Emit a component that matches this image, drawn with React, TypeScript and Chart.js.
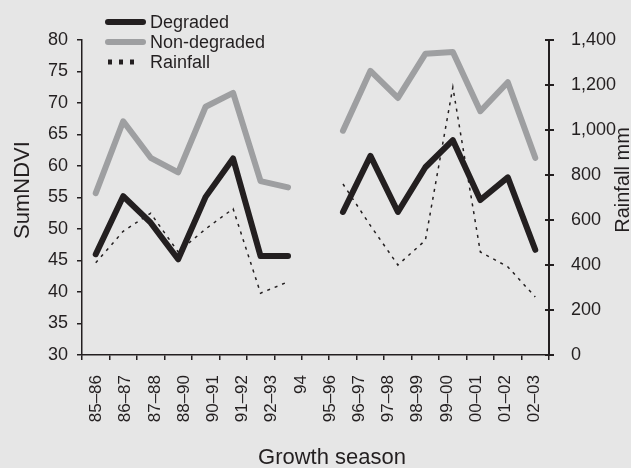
import { useEffect, useRef } from 'react';
import { Chart, registerables } from 'chart.js';

Chart.register(...registerables);

const seasons = ['85–86', '86–87', '87–88', '88–90', '90–91', '91–92', '92–93', '94', '95–96', '96–97', '97–98', '98–99', '99–00', '00–01', '01–02', '02–03'];
// data slots: a blank slot separates the two observation periods
const slots = [...seasons.slice(0, 8), '', ...seasons.slice(8)];
const degraded = [46, 55.2, 51, 45.2, 55.1, 61.2, 45.7, 45.7, null, 52.7, 61.6, 52.7, 59.8, 64.1, 54.6, 58.2, 46.7];
const nonDegraded = [55.7, 67.1, 61.3, 59, 69.4, 71.6, 57.6, 56.6, null, 65.6, 75.1, 70.8, 77.8, 78.1, 68.7, 73.3, 61.3];
const rainfall = [410, 550, 630, 458, 560, 650, 275, 325, null, 760, 575, 400, 510, 1190, 458, 392, 258];
const legendLabels = ['Degraded', 'Non-degraded', 'Rainfall'];

const FONT = '"Liberation Sans", Arial, sans-serif';
const INK = '#231f20';
const GREY = '#9e9fa1';
const BG = '#e6e6e6';

const decor = {
  id: 'decor',
  beforeDraw(chart: any) {
    const ctx = chart.ctx;
    ctx.save();
    ctx.fillStyle = BG;
    ctx.fillRect(0, 0, chart.width, chart.height);
    ctx.restore();
  },
  afterDraw(chart: any) {
    const ctx = chart.ctx;
    ctx.save();
    // right axis ticks crossing the axis
    const yr = chart.scales.yr;
    ctx.strokeStyle = INK;
    ctx.lineWidth = 2;
    yr.ticks.forEach((t: any) => {
      const y = Math.round(yr.getPixelForValue(t.value));
      ctx.beginPath();
      ctx.moveTo(yr.left - 4, y);
      ctx.lineTo(yr.left + 5, y);
      ctx.stroke();
    });
    // legend
    const lx0 = 108, lx1 = 143, tx = 150;
    const ys = [22, 42, 62];
    ctx.lineCap = 'round';
    ctx.lineWidth = 6;
    ctx.strokeStyle = INK;
    ctx.beginPath(); ctx.moveTo(lx0, ys[0]); ctx.lineTo(lx1, ys[0]); ctx.stroke();
    ctx.strokeStyle = GREY;
    ctx.beginPath(); ctx.moveTo(lx0, ys[1]); ctx.lineTo(lx1, ys[1]); ctx.stroke();
    ctx.lineCap = 'butt';
    ctx.lineWidth = 5;
    ctx.strokeStyle = INK;
    ctx.setLineDash([4, 7]);
    ctx.beginPath(); ctx.moveTo(lx0, ys[2]); ctx.lineTo(lx0 + 28, ys[2]); ctx.stroke();
    ctx.setLineDash([]);
    ctx.fillStyle = INK;
    ctx.font = `18px ${FONT}`;
    ctx.textBaseline = 'middle';
    ctx.textAlign = 'left';
    legendLabels.forEach((l, i) => ctx.fillText(l, tx, ys[i] + 1));
    // axis titles
    ctx.textAlign = 'center';
    ctx.font = `22px ${FONT}`;
    ctx.save();
    ctx.translate(23, 190);
    ctx.rotate(-Math.PI / 2);
    ctx.fillText('SumNDVI', 0, 0);
    ctx.restore();
    ctx.font = `20px ${FONT}`;
    ctx.save();
    ctx.translate(623, 180);
    ctx.rotate(-Math.PI / 2);
    ctx.fillText('Rainfall mm', 0, 0);
    ctx.restore();
    ctx.font = `22px ${FONT}`;
    ctx.fillText('Growth season', 332, 458);
    ctx.restore();
  },
};

export default function App() {
  const ref = useRef<HTMLCanvasElement>(null);
  useEffect(() => {
    document.body.style.margin = '0';
    document.body.style.background = BG;
    const chart = new Chart(ref.current!, {
      type: 'line',
      data: {
        labels: slots,
        datasets: [
          {
            label: 'Rainfall',
            data: rainfall,
            yAxisID: 'yr',
            xAxisID: 'x',
            borderColor: INK,
            borderWidth: 1.5,
            borderDash: [3, 5],
            pointRadius: 0,
            spanGaps: false,
            order: 3,
          },
          {
            label: 'Non-degraded',
            data: nonDegraded,
            yAxisID: 'y',
            xAxisID: 'x',
            borderColor: GREY,
            borderWidth: 6,
            borderCapStyle: 'round',
            borderJoinStyle: 'round',
            pointRadius: 0,
            spanGaps: false,
            order: 2,
          },
          {
            label: 'Degraded',
            data: degraded,
            yAxisID: 'y',
            xAxisID: 'x',
            borderColor: INK,
            borderWidth: 6,
            borderCapStyle: 'round',
            borderJoinStyle: 'round',
            pointRadius: 0,
            spanGaps: false,
            order: 1,
          },
        ],
      },
      options: {
        responsive: false,
        animation: false,
        devicePixelRatio: 1,
        layout: { padding: { top: 40, left: 0, right: 0, bottom: 0 } },
        plugins: { legend: { display: false }, tooltip: { enabled: false } },
        scales: {
          x: {
            type: 'category',
            position: 'bottom',
            offset: true,
            grid: { display: true, offset: true, drawOnChartArea: false, drawTicks: true, tickLength: 5, color: INK, lineWidth: 1.5 },
            border: { display: true, color: INK, width: 1.5 },
            ticks: { display: false },
            afterFit: (s: any) => { s.height = 0; },
          },
          xl: {
            type: 'category',
            position: 'bottom',
            labels: seasons,
            offset: true,
            grid: { display: false },
            border: { display: false },
            ticks: {
              autoSkip: false,
              maxRotation: 90,
              minRotation: 90,
              padding: 12,
              color: INK,
              font: { family: FONT, size: 17 },
            },
            afterFit: (s: any) => { s.height = 113; },
          },
          y: {
            position: 'left',
            min: 30,
            max: 80,
            ticks: { stepSize: 5, padding: 9, color: INK, font: { family: FONT, size: 18 } },
            grid: { display: true, drawOnChartArea: false, drawTicks: true, tickLength: 5, color: INK, lineWidth: 1.5 },
            border: { display: true, color: INK, width: 1.5 },
            afterFit: (s: any) => { s.width = 82; },
          },
          yr: {
            position: 'right',
            min: 0,
            max: 1400,
            ticks: {
              stepSize: 200,
              padding: 14,
              color: INK,
              font: { family: FONT, size: 18 },
              callback: (v: any) => Number(v).toLocaleString('en-US'),
            },
            grid: { display: false },
            border: { display: true, color: INK, width: 2 },
            afterFit: (s: any) => { s.width = 82; },
          },
        },
      },
      plugins: [decor],
    });
    return () => chart.destroy();
  }, []);
  return <canvas ref={ref} width={631} height={468} style={{ display: 'block', width: 631, height: 468 }} />;
}
